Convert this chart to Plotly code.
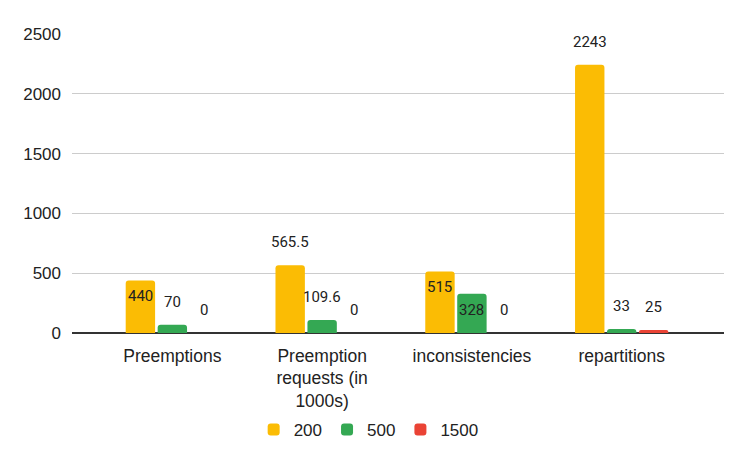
import plotly.graph_objects as go

categories = ["Preemptions", "Preemption<br>requests (in<br>1000s)", "inconsistencies", "repartitions"]
series_names = ["200", "500", "1500"]
values_200 = [440, 565.5, 515, 2243]
values_500 = [70, 109.6, 328, 33]
values_1500 = [0, 0, 0, 25]
label_text_200 = ["440", "565.5", "515", "2243"]
label_text_500 = ["70", "109.6", "328", "33"]
label_text_1500 = ["0", "0", "0", "25"]
y_ticks = [0, 500, 1000, 1500, 2000, 2500]

series_values = [values_200, values_500, values_1500]
series_labels = [label_text_200, label_text_500, label_text_1500]
colors = ["#fbbc04", "#34a853", "#ea4335"]
# styling: which labels sit inside the top of the bar
inside = {(0, 0), (0, 2), (1, 2)}
x_offsets = [-32, 0, 32]

fig = go.Figure()
for name, vals, col in zip(series_names, series_values, colors):
    fig.add_trace(go.Bar(
        x=categories, y=vals, name=name,
        marker=dict(color=col, cornerradius=3, line=dict(width=0)),
    ))

annotations = []
for s, (vals, labs) in enumerate(zip(series_values, series_labels)):
    for c, (v, t) in enumerate(zip(vals, labs)):
        annotations.append(dict(
            x=categories[c], y=v, xref="x", yref="y", text=t, showarrow=False,
            xanchor="center", yanchor="middle",
            xshift=x_offsets[s], yshift=(-16 if (s, c) in inside else 23),
            font=dict(family="Roboto, Arial, sans-serif", size=15, color="#222222"),
        ))

fig.update_layout(
    width=739, height=454,
    margin=dict(l=64, r=23, t=26, b=129),
    paper_bgcolor="white", plot_bgcolor="white",
    barmode="group", bargap=0.36, bargroupgap=0.08,
    font=dict(family="Liberation Sans, Arial, sans-serif", size=17, color="#222222"),
    showlegend=True,
    legend=dict(orientation="h", x=0.455, xanchor="center",
                y=-0.324, yanchor="middle",
                font=dict(size=17, color="#222222"), itemclick=False),
    annotations=annotations,
    xaxis=dict(type="category", range=[-0.67, 3.683], showgrid=False, ticks="",
               tickfont=dict(size=17.5, color="#222222"), showline=False, zeroline=False,
               ticklabelstandoff=10),
    yaxis=dict(range=[0, 2500], tickvals=y_ticks, showgrid=True, gridcolor="#cccccc",
               gridwidth=1, zeroline=True, zerolinecolor="#333333", zerolinewidth=1.5,
               tickfont=dict(size=17, color="#222222"), ticks="", showline=False,
               ticklabelstandoff=10),
)

fig.write_html("out.html")
